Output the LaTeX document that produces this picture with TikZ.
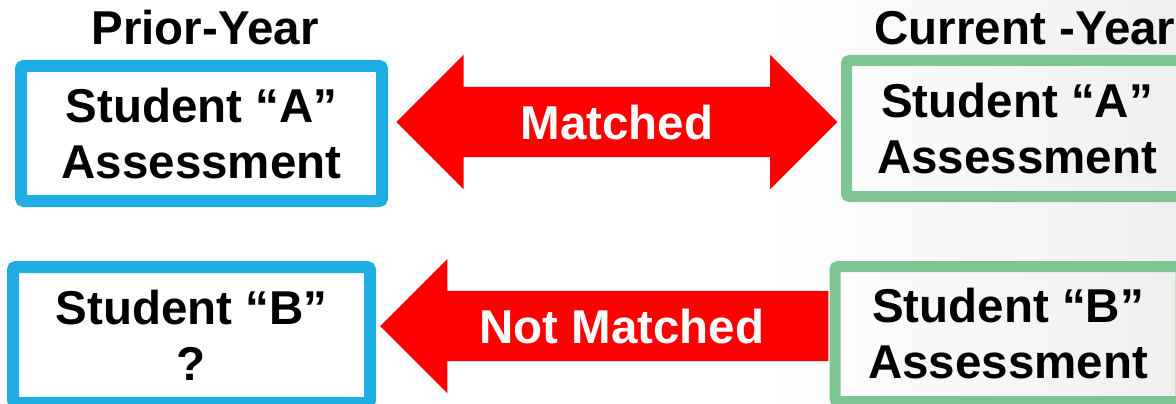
\documentclass[tikz,border=0pt]{standalone}
\usepackage{fontspec}
\setmainfont{Liberation Sans}
\usetikzlibrary{shapes.arrows, positioning}
\definecolor{priorblue}{HTML}{1FAEE3}
\definecolor{currgreen}{HTML}{7FC594}

\begin{document}
\begin{tikzpicture}[x = 1pt, y = 1pt, node distance = 8pt and 8pt]
        \tikzstyle{txt} = [font = \fontsize{47.5}{56}\selectfont\bfseries, align = center]
        \tikzstyle{prior} = [txt, draw = priorblue, line width = 12pt, rounded corners = 3pt]
        \tikzstyle{current} = [txt, draw = currgreen, line width = 11pt, rounded corners = 3pt]
        \tikzstyle{head} = [txt, inner sep = 0pt]
        \tikzstyle{link} = [txt, fill = red, text = white, text height = 34pt, text depth = 0pt, inner ysep = 18pt, inner xsep = 0pt]
        \useasboundingbox (0,0) rectangle (1176,-404);
        \fill[white] (0,0) rectangle (1176,-404);
        \shade[left color = white, right color = black!6] (760,0) rectangle (1176,-404);
        \node[prior, minimum width = 361pt, minimum height = 135pt] (pa) at (201.5,-133.5) {Student “A”\\Assessment};
        \node[current, minimum width = 341pt, minimum height = 136pt] (ca) at (1017,-128.5) {Student “A”\\Assessment};
        \node[prior, minimum width = 357pt, minimum height = 136pt] (pb) at (191.5,-335) {Student “B”\\?};
        \node[current, minimum width = 346pt, minimum height = 135pt] (cb) at (1008,-334) {Student “B”\\Assessment};
        \node[head, above = 15pt of pa, xshift = 3.5pt] (py) {Prior-Year};
        \node[head, above = 10pt of ca, xshift = 8pt] (cy) {Current -Year};
        \node[link, double arrow, double arrow head extend = 32pt, minimum height = 441pt, right = 8pt of pa, yshift = 11.5pt] (m) {Matched};
        \node[link, single arrow, single arrow head extend = 32pt, shape border rotate = 180, minimum height = 448pt, left = 1pt of cb, yshift = 8pt] (nm) {Not Matched};
\end{tikzpicture}
\end{document}
